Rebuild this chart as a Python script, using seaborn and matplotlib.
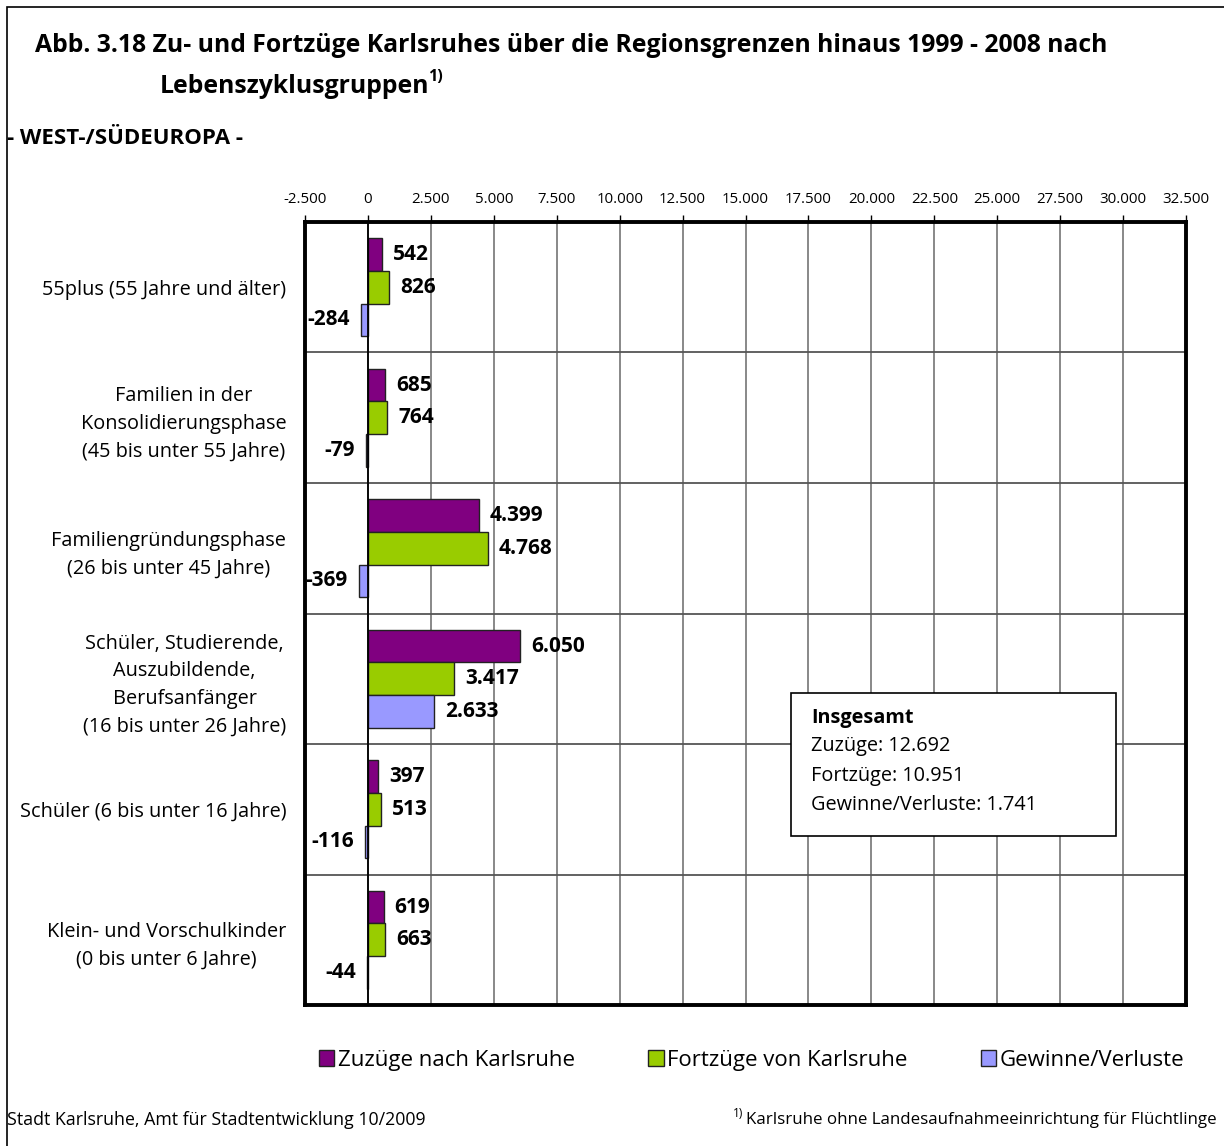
import matplotlib.pyplot as plt
import numpy as np
import pandas as pd
import seaborn as sns
from matplotlib.patches import Rectangle
from matplotlib.ticker import FuncFormatter

GROUPS = [
    "55plus (55 Jahre und älter)",
    "Familien in der\nKonsolidierungsphase\n(45 bis unter 55 Jahre)",
    "Familiengründungsphase\n(26 bis unter 45 Jahre)",
    "Schüler, Studierende,\nAuszubildende,\nBerufsanfänger\n(16 bis unter 26 Jahre)",
    "Schüler (6 bis unter 16 Jahre)",
    "Klein- und Vorschulkinder\n(0 bis unter 6 Jahre)",
]
SERIES = ["Zuzüge nach Karlsruhe", "Fortzüge von Karlsruhe", "Gewinne/Verluste"]
ZUZUEGE = [542, 685, 4399, 6050, 397, 619]
FORTZUEGE = [826, 764, 4768, 3417, 513, 663]
SALDO = [-284, -79, -369, 2633, -116, -44]
X_TICKS = np.arange(-2500, 32501, 2500)
COLORS = ["#800080", "#99CC00", "#9999FF"]


def de(v):
    return f"{int(v):,}".replace(",", ".")


df = pd.DataFrame({
    "group": GROUPS * 3,
    "series": np.repeat(SERIES, len(GROUPS)),
    "value": ZUZUEGE + FORTZUEGE + SALDO,
})

sns.set_style("white")
plt.rcParams["font.family"] = ["Open Sans", "DejaVu Sans"]
for key in ["text.color", "axes.labelcolor", "xtick.color", "ytick.color"]:
    plt.rcParams[key] = "black"

fig = plt.figure(figsize=(12.24, 11.46), dpi=100)
ax = fig.add_axes([0.2492, 0.123, 0.7198, 0.6833])

sns.barplot(data=df, x="value", y="group", hue="series", palette=COLORS,
            saturation=1, orient="h", width=0.75, edgecolor="#222222",
            linewidth=1, errorbar=None, ax=ax)

ax.set_xlim(X_TICKS[0], X_TICKS[-1])
ax.set_ylim(len(GROUPS) - 0.5, -0.5)
ax.set_xlabel("")
ax.set_ylabel("")

ax.xaxis.tick_top()
ax.set_xticks(X_TICKS)
ax.xaxis.set_major_formatter(FuncFormatter(lambda v, _: de(v)))
ax.tick_params(axis="x", top=True, length=5, width=1, color="black",
               labelsize=10.8, pad=6)
ax.tick_params(axis="y", left=False, labelsize=14.3, pad=10)
for lbl in ax.get_yticklabels():
    lbl.set_multialignment("center")
    lbl.set_linespacing(1.5)

ax.set_yticks(np.arange(-0.5, len(GROUPS)), minor=True)
ax.tick_params(axis="y", which="minor", left=False)
ax.grid(axis="x", which="major", color="#7f7f7f", linewidth=1.3)
ax.grid(axis="y", which="minor", color="#555555", linewidth=1.3)
ax.grid(axis="y", which="major", visible=False)
ax.axvline(0, color="black", linewidth=1.3, zorder=1.5)
ax.set_axisbelow(True)
for sp in ax.spines.values():
    sp.set_visible(True)
    sp.set_color("black")
    sp.set_linewidth(2.8)

for cont in ax.containers:
    vals = cont.datavalues
    ax.bar_label(cont, labels=[de(v) for v in vals], padding=8,
                 fontsize=15, fontweight="bold")

handles, labels = ax.get_legend_handles_labels()
ax.get_legend().remove()
fig.legend(handles, labels, loc="center", bbox_to_anchor=(0.614, 0.075),
           ncol=3, frameon=False, fontsize=16, handlelength=0.7,
           handleheight=0.7, handletextpad=0.15, columnspacing=3.3)

# summary box
box = Rectangle((0.646, 0.2705), 0.2655, 0.1248, transform=fig.transFigure,
                facecolor="white", edgecolor="black", linewidth=1.2, zorder=5)
fig.patches.append(box)
fig.text(0.6626, 0.3735, "Insgesamt", fontsize=14.3, fontweight="bold",
         va="center", zorder=6)
summary = [("Zuzüge", sum(ZUZUEGE)), ("Fortzüge", sum(FORTZUEGE)),
           ("Gewinne/Verluste", sum(SALDO))]
for (name, total), y in zip(summary, [0.349, 0.3229, 0.2976]):
    fig.text(0.6626, y, f"{name}: {de(total)}", fontsize=14.3, va="center",
             zorder=6)

# titles
fig.text(0.0286, 0.9600, "Abb. 3.18 Zu- und Fortzüge Karlsruhes über die "
         "Regionsgrenzen hinaus 1999 - 2008 nach", fontsize=17.8,
         fontweight="bold", va="center")
t2 = fig.text(0.1307, 0.9245, "Lebenszyklusgruppen", fontsize=17.8,
              fontweight="bold", va="center")
ax.annotate("1)", xy=(1, 0.9), xycoords=t2, fontsize=11.5, fontweight="bold",
            ha="left", va="center", xytext=(-1, 0),
            textcoords="offset points", annotation_clip=False)
fig.text(0.0057, 0.8795, "- WEST-/SÜDEUROPA -", fontsize=16,
         fontweight="bold", va="center")

# footer
fig.text(0.0057, 0.0227, "Stadt Karlsruhe, Amt für Stadtentwicklung 10/2009",
         fontsize=12.8, va="center")
t3 = fig.text(0.9943, 0.0227, "Karlsruhe ohne Landesaufnahmeeinrichtung für "
              "Flüchtlinge", fontsize=12.2, ha="right", va="center")
ax.annotate("1)", xy=(0, 1), xycoords=t3, fontsize=8.5, ha="right",
            va="center", xytext=(-2, -1), textcoords="offset points",
            annotation_clip=False)

frame = Rectangle((7 / 1224, -0.5), 2, 0.5 + 1 - 7 / 1146,
                  transform=fig.transFigure, fill=False, edgecolor="black",
                  linewidth=1.2)
fig.patches.append(frame)

fig.savefig("out.png", dpi=100)
